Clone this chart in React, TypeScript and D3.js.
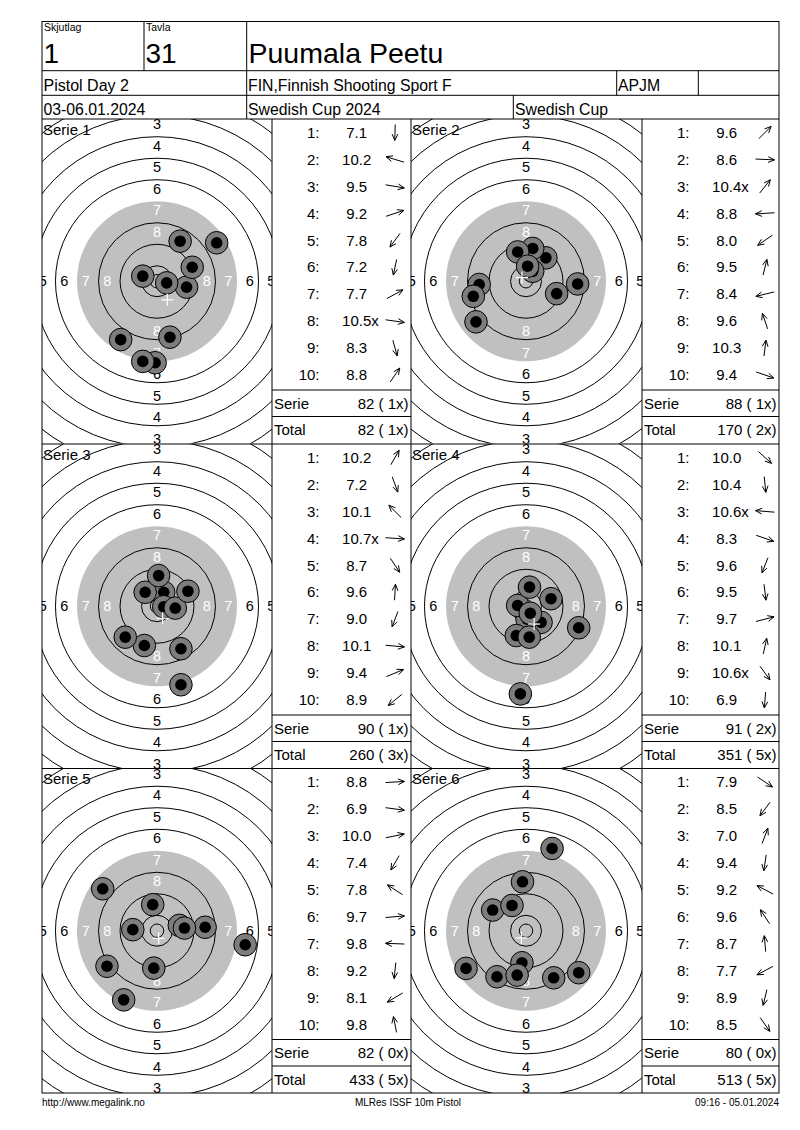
import * as d3 from "d3";

// header texts
const SHOOTING_LABEL = "Skjutlag";
const SHOOTING_NO = "1";
const TARGET_LABEL = "Tavla";
const TARGET_NO = "31";
const SHOOTER = "Puumala Peetu";
const EVENT = "Pistol Day 2";
const CLUB = "FIN,Finnish Shooting Sport F";
const CLASS = "APJM";
const DATES = "03-06.01.2024";
const COMPETITION = "Swedish Cup 2024";
const CUP = "Swedish Cup";
const FOOTER_LEFT = "http://www.megalink.no";
const FOOTER_MID = "MLRes ISSF 10m Pistol";
const FOOTER_RIGHT = "09:16 - 05.01.2024";

const SERIES_NAMES = ["Serie 1", "Serie 2", "Serie 3", "Serie 4", "Serie 5", "Serie 6"];

// scores per shot, as printed
const SCORES_1 = ["7.1", "10.2", "9.5", "9.2", "7.8", "7.2", "7.7", "10.5x", "8.3", "8.8"];
const SCORES_2 = ["9.6", "8.6", "10.4x", "8.8", "8.0", "9.5", "8.4", "9.6", "10.3", "9.4"];
const SCORES_3 = ["10.2", "7.2", "10.1", "10.7x", "8.7", "9.6", "9.0", "10.1", "9.4", "8.9"];
const SCORES_4 = ["10.0", "10.4", "10.6x", "8.3", "9.6", "9.5", "9.7", "10.1", "10.6x", "6.9"];
const SCORES_5 = ["8.8", "6.9", "10.0", "7.4", "7.8", "9.7", "9.8", "9.2", "8.1", "9.8"];
const SCORES_6 = ["7.9", "8.5", "7.0", "9.4", "9.2", "9.6", "8.7", "7.7", "8.9", "8.5"];

// shot positions in mm from centre (x right, y down)
const SHOTS_1 = [[-0.7, 30.3], [-5.3, -1.9], [11.0, 2.2], [13.1, -5.2], [-13.5, 21.7], [-5.3, 29.8], [22.2, -14.3], [3.6, 0.6], [4.8, 20.8], [8.6, -14.9]];
const SHOTS_2 = [[7.4, -8.7], [19.2, 1.0], [2.5, -3.7], [-17.4, 1.2], [-18.6, 15.1], [2.5, -12.2], [-19.6, 5.6], [-3.1, -10.9], [0.6, -5.6], [11.4, 4.6]];
const SHOTS_3 = [[2.5, -5.2], [8.9, 29.2], [-4.4, -5.2], [2.5, 0.2], [8.9, 15.8], [0.6, -11.4], [-4.7, 14.6], [6.8, 0.7], [11.5, -5.6], [-11.8, 11.5]];
const SHOTS_4 = [[5.6, 6.0], [0.4, 4.8], [-3.1, -0.3], [19.6, 8.0], [-3.6, 10.9], [1.2, 11.5], [9.3, -2.8], [1.3, -7.1], [1.6, 2.6], [-2.1, 32.6]];
const SHOTS_5 = [[17.9, -1.3], [32.8, 5.2], [8.3, -2.0], [-12.4, 25.7], [-20.2, -15.6], [10.2, -1.0], [-9.0, -0.4], [-1.2, 13.9], [-18.6, 13.2], [-1.6, -9.7]];
const SHOTS_6 = [[19.6, 15.6], [-10.8, 17.1], [9.7, -30.6], [-1.5, 11.9], [-12.4, -7.7], [-5.2, -9.4], [-1.3, -18.2], [-22.3, 14.0], [-3.3, 16.5], [10.3, 17.5]];

const SERIE_SUMS = ["82 ( 1x)", "88 ( 1x)", "90 ( 1x)", "91 ( 2x)", "82 ( 0x)", "80 ( 0x)"];
const TOTAL_SUMS = ["82 ( 1x)", "170 ( 2x)", "260 ( 3x)", "351 ( 5x)", "433 ( 5x)", "513 ( 5x)"];

const SCORES = [SCORES_1, SCORES_2, SCORES_3, SCORES_4, SCORES_5, SCORES_6];
const SHOTS = [SHOTS_1, SHOTS_2, SHOTS_3, SHOTS_4, SHOTS_5, SHOTS_6];

// ISSF 10m pistol target (mm)
const RINGS = [1, 2, 3, 4, 5, 6, 8, 9, 10];
const RING_LABELS = [3, 4, 5, 6, 7, 8];
const INNER_TEN = 2.5;
const ringR = (k: number) => 5.75 + 8 * (10 - k);

const FONT = "'Liberation Sans', Arial, sans-serif";
const LEFT = 42;
const RIGHT = 779;
const TOP = 21.5;
const ROW_TOPS = [119, 444, 768.5];
const ROW_H = 324.5;
const COLS = [
  { t0: 42, t1: 272, b1: 411 },
  { t0: 411, t1: 642, b1: 779 },
];

// mm -> px
const mm = d3.scaleLinear().domain([0, 29.75]).range([0, 80]);

function charW(s: string) {
  let w = 0;
  for (const c of s) w += c === "." ? 0.278 : 0.556;
  return w;
}

function Target({ id, x0, x1, y0, name, shots }: { id: string; x0: number; x1: number; y0: number; name: string; shots: number[][] }) {
  const cx = x0 + 115;
  const cy = y0 + ROW_H / 2;
  const sx = d3.scaleLinear().domain([0, 1]).range([cx, cx + mm(1)]);
  const sy = d3.scaleLinear().domain([0, 1]).range([cy, cy + mm(1)]);
  const mx = d3.mean(shots, (d) => d[0]) ?? 0;
  const my = d3.mean(shots, (d) => d[1]) ?? 0;
  return (
    <g>
      <clipPath id={id}>
        <rect x={x0} y={y0} width={x1 - x0} height={ROW_H} />
      </clipPath>
      <g clipPath={`url(#${id})`}>
        <circle cx={cx} cy={cy} r={mm(ringR(7))} fill="#c0c0c0" />
        {RINGS.map((k) => (
          <circle key={k} cx={cx} cy={cy} r={mm(ringR(k))} fill="none" stroke="#000" strokeWidth={1} />
        ))}
        <circle cx={cx} cy={cy} r={mm(INNER_TEN)} fill="none" stroke="#000" strokeWidth={1} />
        {RING_LABELS.map((k) => {
          const d = mm((ringR(k) + ringR(k + 1)) / 2) + 2;
          const fill = k >= 7 ? "#fff" : "#000";
          const pos = [
            [cx, cy - d],
            [cx, cy + d],
            [cx - d, cy],
            [cx + d, cy],
          ].filter(([x]) => x > x0 - 3 && x < x1 + 3);
          return pos.map(([x, y], i) => (
            <text key={`${k}-${i}`} x={x} y={y} dy="0.36em" textAnchor="middle" fontSize={14.5} fill={fill} fontFamily={FONT}>
              {k}
            </text>
          ));
        })}
        {shots.map((s, i) => (
          <g key={i}>
            <circle cx={sx(s[0])} cy={sy(s[1])} r={11.3} fill="#7d7d7d" stroke="#000" strokeWidth={1} />
            <circle cx={sx(s[0])} cy={sy(s[1])} r={5.8} fill="#000" />
          </g>
        ))}
        <g stroke="#fff" strokeWidth={1.2}>
          <line x1={sx(mx) - 6} x2={sx(mx) + 6} y1={sy(my)} y2={sy(my)} />
          <line x1={sx(mx)} x2={sx(mx)} y1={sy(my) - 6} y2={sy(my) + 6} />
        </g>
      </g>
      <text x={x0 + 1} y={y0 + 15.5} fontSize={15} fontFamily={FONT}>
        {name}
      </text>
    </g>
  );
}

function Arrow({ x, y, angle }: { x: number; y: number; angle: number }) {
  const rx = 9.5;
  const ry = 8;
  const c = Math.cos(angle);
  const s = Math.sin(angle);
  const tx = x + rx * c;
  const ty = y + ry * s;
  const bx = x - rx * c;
  const by = y - ry * s;
  const a = Math.atan2(ty - by, tx - bx);
  const hl = 7;
  const spread = 0.42;
  const h1x = tx - hl * Math.cos(a - spread);
  const h1y = ty - hl * Math.sin(a - spread);
  const h2x = tx - hl * Math.cos(a + spread);
  const h2y = ty - hl * Math.sin(a + spread);
  return (
    <path
      d={`M${bx},${by}L${tx},${ty}M${h1x},${h1y}L${tx},${ty}L${h2x},${h2y}`}
      fill="none"
      stroke="#000"
      strokeWidth={1}
    />
  );
}

function ScoreTable({ x0, x1, y0, scores, shots, serie, total }: { x0: number; x1: number; y0: number; scores: string[]; shots: number[][]; serie: string; total: string }) {
  const rowY = d3.scaleLinear().domain([0, 9]).range([y0 + 13.5, y0 + 256]);
  const fs = 15;
  return (
    <g fontFamily={FONT} fontSize={fs}>
      {scores.map((sc, i) => {
        const isX = sc.endsWith("x");
        const num = isX ? sc.slice(0, -1) : sc;
        const vx = x0 + 84.7;
        const y = rowY(i);
        return (
          <g key={i}>
            <text x={x0 + 47.5} y={y} dy="0.35em" textAnchor="end">{`${i + 1}:`}</text>
            <text x={vx} y={y} dy="0.35em" textAnchor="middle">{num}</text>
            {isX && (
              <text x={vx + (charW(num) * fs) / 2} y={y} dy="0.35em">x</text>
            )}
            <Arrow x={x0 + 123} y={y} angle={Math.atan2(shots[i][1], shots[i][0])} />
          </g>
        );
      })}
      <line x1={x0} x2={x1} y1={y0 + 271} y2={y0 + 271} stroke="#000" />
      <line x1={x0} x2={x1} y1={y0 + 297.5} y2={y0 + 297.5} stroke="#000" />
      <text x={x0 + 2} y={y0 + 284.3} dy="0.35em">Serie</text>
      <text x={x1 - 2.5} y={y0 + 284.3} dy="0.35em" textAnchor="end">{serie}</text>
      <text x={x0 + 2} y={y0 + 311} dy="0.35em">Total</text>
      <text x={x1 - 2.5} y={y0 + 311} dy="0.35em" textAnchor="end">{total}</text>
    </g>
  );
}

export default function App() {
  const bottom = ROW_TOPS[2] + ROW_H;
  return (
    <svg width={800} height={1130} style={{ position: "absolute", left: 0, top: 0, background: "#fff" }}>
      <rect x={0} y={0} width={800} height={1130} fill="#fff" />
      {SERIES_NAMES.map((name, i) => {
        const row = Math.floor(i / 2);
        const col = COLS[i % 2];
        const y0 = ROW_TOPS[row];
        return (
          <g key={name}>
            <Target id={`clip${i}`} x0={col.t0} x1={col.t1} y0={y0} name={name} shots={SHOTS[i]} />
            <ScoreTable x0={col.t1} x1={col.b1} y0={y0} scores={SCORES[i]} shots={SHOTS[i]} serie={SERIE_SUMS[i]} total={TOTAL_SUMS[i]} />
          </g>
        );
      })}

      {/* frame and header grid */}
      <g stroke="#000" strokeWidth={1} fill="none">
        <rect x={LEFT} y={TOP} width={RIGHT - LEFT} height={bottom - TOP} />
        <line x1={LEFT} x2={RIGHT} y1={70.7} y2={70.7} />
        <line x1={LEFT} x2={RIGHT} y1={95.3} y2={95.3} />
        <line x1={LEFT} x2={RIGHT} y1={ROW_TOPS[0]} y2={ROW_TOPS[0]} />
        <line x1={LEFT} x2={RIGHT} y1={ROW_TOPS[1]} y2={ROW_TOPS[1]} />
        <line x1={LEFT} x2={RIGHT} y1={ROW_TOPS[2]} y2={ROW_TOPS[2]} />
        <line x1={144} x2={144} y1={TOP} y2={70.7} />
        <line x1={246.7} x2={246.7} y1={TOP} y2={ROW_TOPS[0]} />
        <line x1={616.7} x2={616.7} y1={70.7} y2={95.3} />
        <line x1={698.3} x2={698.3} y1={70.7} y2={95.3} />
        <line x1={513.3} x2={513.3} y1={95.3} y2={ROW_TOPS[0]} />
        {[COLS[0].t1, COLS[1].t0, COLS[1].t1].map((x) => (
          <line key={x} x1={x} x2={x} y1={ROW_TOPS[0]} y2={bottom} />
        ))}
      </g>

      <g fontFamily={FONT} fill="#000">
        <text x={44} y={30.5} fontSize={10.5}>{SHOOTING_LABEL}</text>
        <text x={146} y={30.5} fontSize={10.5}>{TARGET_LABEL}</text>
        <text x={43.5} y={63.3} fontSize={28}>{SHOOTING_NO}</text>
        <text x={145.5} y={63.3} fontSize={28}>{TARGET_NO}</text>
        <text x={248.5} y={63.3} fontSize={28.5}>{SHOOTER}</text>
        <text x={43.5} y={91} fontSize={16}>{EVENT}</text>
        <text x={248} y={91} fontSize={15.8}>{CLUB}</text>
        <text x={618} y={91} fontSize={15.8}>{CLASS}</text>
        <text x={43.5} y={114.5} fontSize={15.8}>{DATES}</text>
        <text x={248} y={114.5} fontSize={15.8}>{COMPETITION}</text>
        <text x={515} y={114.5} fontSize={15.8}>{CUP}</text>
        <text x={42} y={1106} fontSize={10}>{FOOTER_LEFT}</text>
        <text x={408} y={1106} fontSize={10} textAnchor="middle">{FOOTER_MID}</text>
        <text x={779} y={1106} fontSize={10} textAnchor="end">{FOOTER_RIGHT}</text>
      </g>
    </svg>
  );
}
